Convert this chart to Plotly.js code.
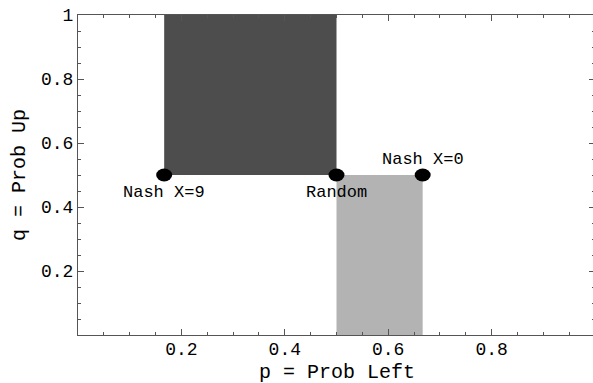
<!DOCTYPE html>
<html>
<head>
<meta charset="utf-8">
<script src="https://cdn.plot.ly/plotly-3.0.1.min.js"></script>
<style>
html, body { margin: 0; padding: 0; overflow: hidden; background: #fff; }
#chart { width: 600px; height: 383px; }
</style>
</head>
<body>
<div id="chart"></div>
<script>
// Regions (p range, q range) and fill colours
const regionNames = ["X=9 region", "X=0 region"];
const regionPMin = [1/6, 0.5];
const regionPMax = [0.5, 2/3];
const regionQMin = [0.5, 0];
const regionQMax = [1, 0.5];
const regionColors = ["#4d4d4d", "#b3b3b3"];

// Labelled points
const pointP = [1/6, 0.5, 2/3];
const pointQ = [0.5, 0.5, 0.5];
const pointLabels = ["Nash X=9", "Random", "Nash X=0"];
const labelBelow = [true, true, false];

// Tick labels
const xTickVals = [0.2, 0.4, 0.6, 0.8, 1];
const xTickText = ["0.2", "0.4", "0.6", "0.8", "1"];
const yTickVals = [0.2, 0.4, 0.6, 0.8, 1];
const yTickText = ["0.2", "0.4", "0.6", "0.8", "1"];

const xTitle = "p = Prob Left";
const yTitle = "q = Prob Up";

const FONT = "Liberation Mono, Courier New, monospace";

const traces = regionNames.map((name, i) => ({
  type: "scatter",
  mode: "lines",
  name: name,
  x: [regionPMin[i], regionPMax[i], regionPMax[i], regionPMin[i], regionPMin[i]],
  y: [regionQMin[i], regionQMin[i], regionQMax[i], regionQMax[i], regionQMin[i]],
  fill: "toself",
  fillcolor: regionColors[i],
  line: { width: 0, color: regionColors[i] },
  hoverinfo: "skip",
  showlegend: false
}));

const shapes = pointP.map((p, i) => ({
  type: "circle",
  xref: "x", yref: "y",
  xsizemode: "pixel", ysizemode: "pixel",
  xanchor: p, yanchor: pointQ[i],
  x0: -8, x1: 8, y0: -6.5, y1: 6.5,
  fillcolor: "#000", line: { width: 0 },
  layer: "above"
}));

const annotations = pointP.map((p, i) => ({
  x: p, y: pointQ[i], xref: "x", yref: "y",
  text: pointLabels[i], showarrow: false,
  yshift: labelBelow[i] ? -17 : 16,
  font: { family: FONT, size: 17, color: "#000" }
}));

// x-axis title as a paper annotation so it can sit lower than the margin allows
annotations.push({
  x: 0.5, y: 0, xref: "paper", yref: "paper",
  xanchor: "center", yanchor: "top", yshift: -24,
  text: xTitle, showarrow: false,
  font: { family: FONT, size: 20, color: "#000" }
});

const axisCommon = {
  showgrid: false, zeroline: false,
  showline: true, linecolor: "#555", linewidth: 1, mirror: "allticks",
  ticks: "inside", ticklen: 6, tickcolor: "#555", tickwidth: 1,
  tickfont: { family: FONT, size: 18, color: "#000" },
  minor: { dtick: 0.05, ticks: "inside", ticklen: 3, tickcolor: "#555", tickwidth: 1 },
  fixedrange: true
};

const layout = {
  width: 600, height: 383,
  margin: { l: 78, r: 4.5, t: 15, b: 48 },
  paper_bgcolor: "#fff", plot_bgcolor: "#fff",
  showlegend: false,
  xaxis: Object.assign({}, axisCommon, {
    range: [0, 1],
    tickmode: "array", tickvals: xTickVals, ticktext: xTickText,
    ticklabelstandoff: -3
  }),
  yaxis: Object.assign({}, axisCommon, {
    range: [0, 1],
    tickmode: "array", tickvals: yTickVals, ticktext: yTickText,
    title: { text: yTitle, font: { family: FONT, size: 20, color: "#000" }, standoff: 9 }
  }),
  shapes: shapes,
  annotations: annotations
};

Plotly.newPlot("chart", traces, layout, { displayModeBar: false, staticPlot: true });
</script>
</body>
</html>
